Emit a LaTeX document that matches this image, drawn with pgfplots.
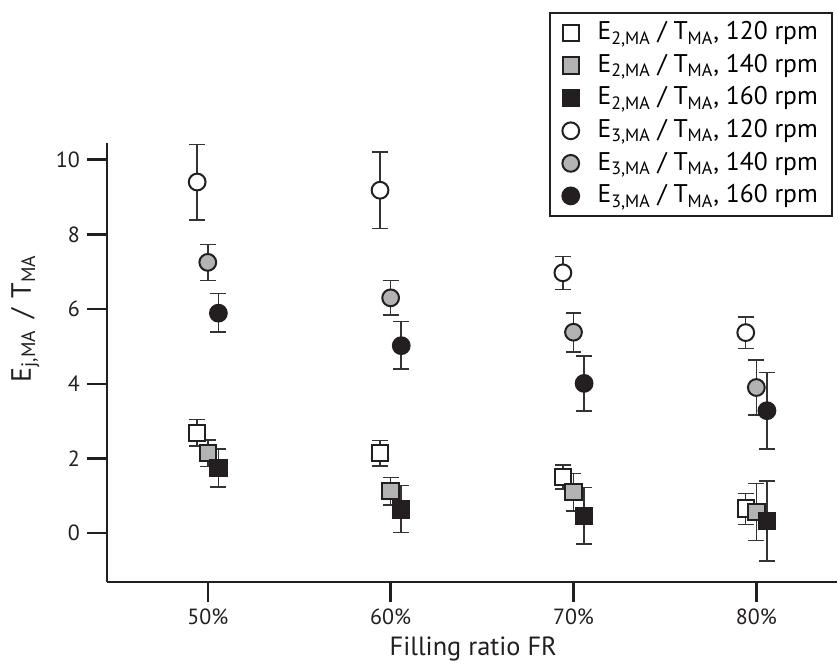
\documentclass[border=0pt]{standalone}
\usepackage{pgfplots}
\pgfplotsset{compat=1.18}
\usepackage{fontspec}
\setmainfont{PT Sans}
\definecolor{mgray}{HTML}{B3B3B3}
\definecolor{mblack}{HTML}{231F20}
\definecolor{ebar}{HTML}{333333}
\begin{document}
\begin{tikzpicture}
\begin{axis}[
  scale only axis,
  width=365.5pt, height=220pt,
  xmin=-0.552, xmax=3.44,
  ymin=-1.31, ymax=10.45,
  axis lines=left,
  axis line style={-, line width=1.2pt, color=mblack},
  xtick={0,1,2,3},
  xticklabels={50\%,60\%,70\%,80\%},
  ytick={0,2,4,6,8,10},
  tick align=outside,
  major tick length=10pt,
  tick style={line width=1.2pt, color=mblack},
  /pgf/number format/assume math mode=true,
  ticklabel style={font=\fontsize{11}{13}\selectfont, color=mblack},
  xlabel={Filling ratio FR},
  ylabel={E\textsubscript{j,MA}\hspace{0.15em} / \hspace{0.1em}T\textsubscript{MA}},
  every axis y label/.style={at={(axis description cs:-0.112,0.6)}, anchor=center, rotate=90, font=\fontsize{14}{15}\selectfont, color=mblack},
  every axis x label/.style={at={(axis description cs:0.502,-0.152)}, anchor=center, font=\fontsize{13.2}{15}\selectfont, color=mblack},
  clip=false,
  legend style={at={(axis description cs:0.9945,1.298)}, anchor=north east,
    draw=mblack, line width=1pt, font=\fontsize{12.8}{15}\selectfont,
    row sep=0pt, inner xsep=5pt, inner ysep=2pt,
    nodes={text height=9.5pt, text depth=2.8pt, inner ysep=2pt}},
  legend cell align=left,
  legend image code/.code={\path (-5pt,0pt) (11pt,0pt); \draw[#1] plot coordinates {(0pt,0pt)};},
  error bars/y dir=both,
  error bars/y explicit,
  error bars/error mark options={rotate=90, mark size=4pt, line width=0.75pt, color=ebar},
  error bars/error bar style={line width=0.75pt, color=ebar},
]
% E2 120
\addplot[only marks, mark=square*, mark size=4.1pt, mark options={fill=white, draw=mblack, line width=1pt}]
  table[x=x, y=y, y error plus=ep, y error minus=em] {
x y ep em
-0.058 2.69 0.36 0.36
0.942 2.14 0.34 0.34
1.942 1.51 0.31 0.32
2.942 0.66 0.40 0.42
};
\addlegendentry{E\textsubscript{2,MA} / T\textsubscript{MA}, 120 rpm}
% E2 140
\addplot[only marks, mark=square*, mark size=4.1pt, mark options={fill=mgray, draw=mblack, line width=1pt}]
  table[x=x, y=y, y error plus=ep, y error minus=em] {
x y ep em
0 2.14 0.35 0.36
1 1.13 0.36 0.38
2 1.11 0.49 0.52
3 0.57 0.76 0.77
};
\addlegendentry{E\textsubscript{2,MA} / T\textsubscript{MA}, 140 rpm}
% E2 160
\addplot[only marks, mark=square*, mark size=4.1pt, mark options={fill=mblack, draw=mblack, line width=1pt}]
  table[x=x, y=y, y error plus=ep, y error minus=em] {
x y ep em
0.058 1.74 0.52 0.50
1.058 0.64 0.64 0.62
2.058 0.46 0.77 0.75
3.058 0.33 1.07 1.07
};
\addlegendentry{E\textsubscript{2,MA} / T\textsubscript{MA}, 160 rpm}
% E3 120
\addplot[only marks, mark=*, mark size=4.2pt, mark options={fill=white, draw=mblack, line width=1pt}]
  table[x=x, y=y, y error plus=ep, y error minus=em] {
x y ep em
-0.058 9.40 1.01 1.02
0.942 9.18 1.03 1.02
1.942 6.97 0.44 0.45
2.942 5.37 0.42 0.43
};
\addlegendentry{E\textsubscript{3,MA} / T\textsubscript{MA}, 120 rpm}
% E3 140
\addplot[only marks, mark=*, mark size=4.2pt, mark options={fill=mgray, draw=mblack, line width=1pt}]
  table[x=x, y=y, y error plus=ep, y error minus=em] {
x y ep em
0 7.25 0.48 0.49
1 6.30 0.46 0.46
2 5.38 0.52 0.53
3 3.90 0.73 0.74
};
\addlegendentry{E\textsubscript{3,MA} / T\textsubscript{MA}, 140 rpm}
% E3 160
\addplot[only marks, mark=*, mark size=4.2pt, mark options={fill=mblack, draw=mblack, line width=1pt}]
  table[x=x, y=y, y error plus=ep, y error minus=em] {
x y ep em
0.058 5.89 0.52 0.51
1.058 5.02 0.65 0.63
2.058 4.01 0.73 0.74
3.058 3.28 1.02 1.03
};
\addlegendentry{E\textsubscript{3,MA} / T\textsubscript{MA}, 160 rpm}
\coordinate (sw) at (rel axis cs:0,0);
\coordinate (ne) at (rel axis cs:1,1);
\end{axis}
\path (sw) ++(-53.5pt,-43.5pt) coordinate (bbsw);
\path (ne) ++(0pt,71.5pt) coordinate (bbne);
\useasboundingbox (bbsw) rectangle (bbne);
\end{tikzpicture}
\end{document}
